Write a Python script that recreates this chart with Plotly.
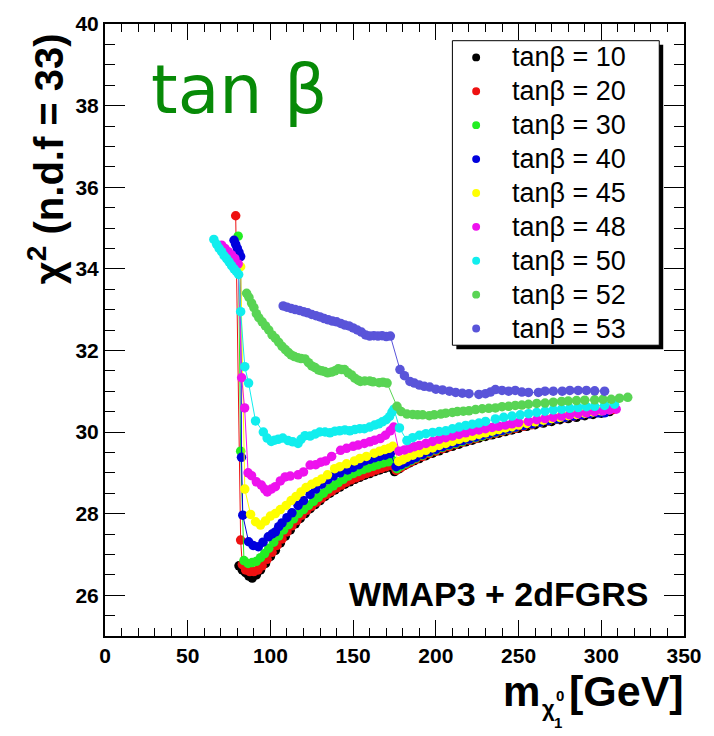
import plotly.graph_objects as go

# ---------------- data ----------------
series_names = ["tan\u03b2 = 10", "tan\u03b2 = 20", "tan\u03b2 = 30", "tan\u03b2 = 40", "tan\u03b2 = 45",
                "tan\u03b2 = 48", "tan\u03b2 = 50", "tan\u03b2 = 52", "tan\u03b2 = 53"]
series_colors = ["#000000", "#ee1111", "#22ee22", "#0000dd", "#ffff00",
                 "#ee11ee", "#11eeee", "#59d454", "#5954d9"]

m_tb10 = [81, 83, 85, 87, 89, 91.5, 94, 97, 100, 103, 106, 109, 112, 115, 118, 121, 124, 127, 130, 133,
          136, 139, 142, 145, 148, 151, 154, 157, 160, 163, 166, 169, 172, 175, 178, 181, 184, 187, 190, 194,
          198, 202, 206, 210, 214, 218, 222, 226, 230, 234, 238, 242, 246, 250, 255, 260, 265, 270, 275, 280,
          285, 290, 295, 300, 305]
chi_tb10 = [26.72, 26.62, 26.55, 26.47, 26.42, 26.5, 26.62, 26.78, 26.95, 27.1, 27.28, 27.45, 27.6, 27.75,
            27.88, 28.0, 28.12, 28.22, 28.32, 28.42, 28.5, 28.58, 28.65, 28.72, 28.78, 28.84, 28.89, 28.94,
            28.98, 29.03, 29.07, 29.11, 29.14, 29.03, 29.1, 29.18, 29.24, 29.3, 29.35, 29.42, 29.48, 29.54,
            29.6, 29.65, 29.7, 29.76, 29.8, 29.85, 29.89, 29.93, 29.97, 30.01, 30.05, 30.09, 30.14, 30.18,
            30.22, 30.26, 30.3, 30.33, 30.36, 30.4, 30.43, 30.46, 30.5]

m_tb20 = [79, 82, 83, 85, 87.5, 90, 92.5, 95, 98, 101, 104, 107, 110, 113, 116, 119, 122, 125, 128, 131,
          134, 137, 140, 143, 146, 149, 152, 155, 158, 161, 164, 167, 170, 173, 176, 179, 182, 185, 188, 192,
          196, 200, 204, 208, 212, 216, 220, 224, 228, 232, 236, 240, 244, 248, 253, 258, 263, 268, 273, 278,
          283, 288, 293, 298, 303, 307]
chi_tb20 = [35.3, 27.35, 26.75, 26.62, 26.58, 26.58, 26.62, 26.72, 26.88, 27.05, 27.22, 27.38, 27.55, 27.7,
            27.83, 27.96, 28.08, 28.18, 28.28, 28.38, 28.47, 28.55, 28.63, 28.7, 28.77, 28.83, 28.88, 28.93,
            28.98, 29.02, 29.07, 29.11, 29.15, 29.18, 29.06, 29.13, 29.2, 29.27, 29.33, 29.4, 29.47, 29.53,
            29.59, 29.64, 29.7, 29.75, 29.8, 29.84, 29.89, 29.93, 29.97, 30.01, 30.05, 30.09, 30.14, 30.18,
            30.23, 30.27, 30.31, 30.35, 30.38, 30.42, 30.45, 30.48, 30.52, 30.55]

m_tb30 = [80.5, 82, 84, 86.5, 89, 91.5, 94, 96.5, 99, 102, 105, 108, 111, 114, 117, 120, 123, 126, 129, 132,
          135, 138, 141, 144, 147, 150, 153, 156, 159, 162, 165, 168, 171, 174, 176.5, 179, 182, 185, 188, 192,
          196, 200, 204, 208, 212, 216, 220, 224, 228, 232, 236, 240, 244, 248, 253, 258, 263, 268, 273, 278,
          283, 288, 293, 298, 303]
chi_tb30 = [34.8, 29.53, 26.85, 26.78, 26.8, 26.83, 26.92, 27.02, 27.15, 27.3, 27.45, 27.6, 27.73, 27.87,
            28.0, 28.1, 28.2, 28.3, 28.4, 28.5, 28.6, 28.68, 28.76, 28.84, 28.92, 28.98, 29.03, 29.08, 29.12,
            29.16, 29.2, 29.24, 29.27, 29.3, 29.1, 29.17, 29.23, 29.3, 29.36, 29.43, 29.5, 29.56, 29.62, 29.67,
            29.72, 29.77, 29.82, 29.86, 29.9, 29.95, 29.99, 30.03, 30.07, 30.11, 30.16, 30.2, 30.24, 30.28,
            30.32, 30.36, 30.4, 30.43, 30.46, 30.5, 30.53]

m_tb40 = [78, 79, 80, 81, 82, 82.5, 83.3, 86.8, 89.5, 92.7, 95.5, 98.7, 101, 103, 105, 107, 110, 113, 116.7,
          120, 124, 127.4, 131, 134.6, 138, 142, 146.6, 150, 153.5, 156.8, 160, 163, 166, 169.3, 172.5, 176,
          179, 182, 185, 188, 192, 196, 200, 204, 208, 212, 216, 220, 224, 228, 232, 236, 240, 244, 248, 253,
          258, 263, 268, 273, 278, 283, 288, 293, 298, 302]
chi_tb40 = [34.7, 34.6, 34.5, 34.4, 34.3, 29.38, 27.96, 27.31, 27.22, 27.19, 27.3, 27.43, 27.5, 27.55, 27.68,
            27.77, 27.9, 28.02, 28.2, 28.32, 28.47, 28.6, 28.72, 28.83, 28.92, 29.0, 29.07, 29.13, 29.2, 29.29,
            29.33, 29.37, 29.4, 29.43, 29.47, 29.15, 29.2, 29.26, 29.32, 29.38, 29.45, 29.52, 29.58, 29.64,
            29.69, 29.74, 29.79, 29.83, 29.88, 29.92, 29.96, 30.0, 30.04, 30.08, 30.12, 30.16, 30.2, 30.24,
            30.28, 30.32, 30.36, 30.39, 30.42, 30.45, 30.47, 30.47]

m_tb45 = [82, 84.5, 88, 91, 94, 97, 100, 103, 106, 109.5, 112.5, 115.5, 118.5, 121.5, 125, 128, 131, 134.5,
          138.8, 142, 146, 150.8, 154, 158, 162.7, 166, 169, 171.7, 174, 177.5, 180, 182.5, 186, 190, 194, 198,
          202, 206, 210, 214, 218, 222, 226, 230, 234, 238, 242, 246, 250, 255, 260, 265, 270, 275, 280, 285,
          290, 295, 300, 305]
chi_tb45 = [34.05, 28.6, 27.98, 27.8, 27.72, 27.82, 27.94, 28.0, 28.1, 28.2, 28.32, 28.42, 28.53, 28.64,
            28.72, 28.78, 28.85, 28.95, 29.1, 29.15, 29.22, 29.29, 29.35, 29.4, 29.48, 29.53, 29.57, 29.6,
            29.65, 29.28, 29.32, 29.38, 29.43, 29.49, 29.55, 29.61, 29.67, 29.72, 29.77, 29.82, 29.86, 29.9,
            29.94, 29.98, 30.02, 30.06, 30.1, 30.13, 30.17, 30.21, 30.25, 30.29, 30.33, 30.36, 30.4, 30.43,
            30.46, 30.49, 30.52, 30.55]

m_tb48 = [70.5, 72.5, 74.5, 76.5, 78.5, 80.5, 82.6, 84.4, 86.5, 88.6, 91.5, 94.5, 96.5, 98.1, 100.5, 103,
          106, 108.9, 112, 116.7, 120, 124, 127.4, 130.5, 133.4, 137, 142.4, 146, 150, 153, 156.8, 160, 163,
          166.4, 169.5, 172.4, 174.5, 177.7, 181, 184, 187, 190, 194, 198, 202, 206, 210, 214, 218, 222, 226,
          230, 234, 238, 242, 246, 250, 256, 261, 266, 271, 276, 281, 286, 291, 296, 301, 305, 309]
chi_tb48 = [34.58, 34.5, 34.42, 34.34, 34.25, 34.12, 31.33, 30.59, 29.0, 28.93, 28.78, 28.7, 28.6, 28.53,
            28.6, 28.66, 28.8, 28.9, 28.92, 28.95, 29.02, 29.19, 29.2, 29.26, 29.29, 29.4, 29.55, 29.6, 29.65,
            29.68, 29.72, 29.76, 29.8, 29.84, 29.92, 30.03, 30.12, 29.53, 29.56, 29.6, 29.64, 29.67, 29.72,
            29.77, 29.82, 29.86, 29.9, 29.94, 29.98, 30.02, 30.05, 30.08, 30.11, 30.14, 30.17, 30.2, 30.23,
            30.26, 30.3, 30.33, 30.36, 30.39, 30.42, 30.45, 30.47, 30.5, 30.52, 30.54, 30.56]

m_tb50 = [65.8, 67.5, 69, 70.5, 72, 73.5, 75, 76.5, 78, 79.5, 80.8, 82, 84.5, 86.8, 91, 95.7, 98, 100.5,
          102.5, 104.7, 107.5, 110.7, 113.5, 116.7, 118.5, 120.9, 124, 127, 129.8, 133, 136, 139, 141.8, 145,
          148, 151, 154, 156.8, 160, 163, 165.5, 167.6, 170, 172, 173.5, 174.7, 178, 182.5, 186, 190, 194, 198,
          202, 206, 210, 214, 218, 222, 226, 230, 236, 241, 246, 251, 256, 261, 266, 271, 276, 281, 286, 291,
          296, 302, 308]
chi_tb50 = [34.72, 34.6, 34.5, 34.42, 34.32, 34.25, 34.17, 34.08, 34.0, 33.93, 33.86, 32.95, 31.6, 31.2,
            30.27, 30.0, 29.85, 29.77, 29.8, 29.82, 29.85, 29.79, 29.76, 29.72, 29.82, 29.91, 29.9, 29.95,
            30.0, 30.0, 29.98, 30.02, 30.03, 30.05, 30.03, 30.06, 30.08, 30.08, 30.12, 30.17, 30.2, 30.25,
            30.3, 30.38, 30.49, 30.56, 30.1, 29.79, 29.86, 29.92, 29.96, 29.99, 30.01, 30.03, 30.08, 30.12,
            30.16, 30.19, 30.22, 30.26, 30.32, 30.36, 30.39, 30.42, 30.45, 30.48, 30.51, 30.54, 30.56, 30.58,
            30.6, 30.62, 30.63, 30.65, 30.68]

m_tb52 = [85.6, 87, 88.6, 90, 91.5, 93, 95, 97, 99, 101, 103, 105, 107, 109, 110.8, 112.5, 114.5, 116.5,
          118.5, 120.9, 123, 125, 127, 129, 131, 132.8, 134.6, 137, 139, 141, 143, 144.8, 147, 149, 151, 153,
          154.4, 157, 160, 162, 165.7, 168, 170.5, 176.5, 179, 182.5, 186, 189, 192, 196, 199, 203, 206, 210,
          213, 216.6, 220, 224, 228, 232, 236, 240, 244, 248, 252, 256, 261, 266, 271, 276, 280, 285, 290,
          296, 301, 306, 311, 316]
chi_tb52 = [33.4, 33.3, 33.16, 33.05, 32.9, 32.8, 32.7, 32.6, 32.5, 32.38, 32.3, 32.2, 32.1, 32.02, 31.95,
            31.89, 31.85, 31.82, 31.8, 31.79, 31.7, 31.62, 31.58, 31.52, 31.5, 31.48, 31.45, 31.47, 31.5,
            31.55, 31.53, 31.53, 31.45, 31.4, 31.32, 31.27, 31.24, 31.25, 31.25, 31.23, 31.21, 31.22, 31.2,
            30.63, 30.5, 30.44, 30.43, 30.42, 30.42, 30.4, 30.42, 30.44, 30.46, 30.48, 30.5, 30.51, 30.52,
            30.55, 30.57, 30.58, 30.59, 30.62, 30.63, 30.65, 30.66, 30.68, 30.7, 30.71, 30.73, 30.75, 30.76,
            30.77, 30.78, 30.79, 30.8, 30.8, 30.83, 30.85]

m_tb53 = [107.7, 110, 112.5, 115, 117.5, 120, 122.5, 125, 127.5, 130, 132.5, 135, 137.5, 140, 142.5, 145,
          147.5, 150, 152.5, 155, 157.5, 160, 162.5, 165, 167.5, 170, 172.5, 178.3, 181, 184.3, 187, 190, 193,
          196.3, 200, 204, 208.2, 212, 216, 220, 226, 230, 233, 236, 240, 244, 248, 252, 256, 262, 266, 271,
          276.4, 281, 286, 291, 296, 302]
chi_tb53 = [33.09, 33.06, 33.03, 33.0, 32.98, 32.95, 32.92, 32.88, 32.85, 32.82, 32.78, 32.75, 32.72, 32.7,
            32.66, 32.62, 32.6, 32.55, 32.5, 32.45, 32.38, 32.35, 32.36, 32.35, 32.36, 32.34, 32.35, 31.53,
            31.38, 31.24, 31.2, 31.15, 31.12, 31.1, 31.05, 31.03, 31.0, 30.97, 30.95, 30.94, 30.92, 30.94,
            30.98, 31.04, 31.02, 31.0, 31.02, 30.98, 30.97, 30.97, 31.0, 31.0, 31.0, 31.02, 31.02, 31.02,
            31.01, 31.0]

series_m = [m_tb10, m_tb20, m_tb30, m_tb40, m_tb45, m_tb48, m_tb50, m_tb52, m_tb53]
series_chi = [chi_tb10, chi_tb20, chi_tb30, chi_tb40, chi_tb45, chi_tb48, chi_tb50, chi_tb52, chi_tb53]

x_range = [0, 350]
y_range = [25, 40]

# ---------------- layout geometry (pixels) ----------------
W, H = 714, 736
L, R, T, B = 105, 690, 13, 636
PW, PH = R - L, B - T


def px(xp):
    return (xp - L) / PW


def py(yp):
    return (B - yp) / PH


fig = go.Figure()
for name, col, xs, ys in zip(series_names, series_colors, series_m, series_chi):
    fig.add_trace(go.Scatter(x=xs, y=ys, mode="lines+markers", name=name,
                             line=dict(color=col, width=1),
                             marker=dict(color=col, size=9.5, line=dict(width=0)),
                             showlegend=False))

tickfont = dict(family="Liberation Sans, Arial, sans-serif", size=21, color="black", weight="bold")
fig.update_xaxes(range=x_range, showgrid=False, zeroline=False, showline=True, linewidth=2,
                 linecolor="black", mirror="ticks", ticks="inside", ticklen=16, tickwidth=1,
                 tickcolor="black", dtick=50, tick0=0, tickfont=tickfont,
                 minor=dict(dtick=10, ticklen=8, tickwidth=1, ticks="inside", tickcolor="black"))
fig.update_yaxes(range=y_range, showgrid=False, zeroline=False, showline=True, linewidth=2,
                 linecolor="black", mirror="ticks", ticks="inside", ticklen=20, tickwidth=1,
                 tickcolor="black", dtick=2, tick0=26, tickfont=tickfont,
                 minor=dict(dtick=0.5, ticklen=10, tickwidth=1, ticks="inside", tickcolor="black"))

shapes = []
annotations = []

# legend box with shadow
shapes.append(dict(type="rect", xref="paper", yref="paper", x0=px(460), x1=px(669), y0=py(344), y1=py(34),
                   fillcolor="black", line=dict(width=0), layer="below"))
shapes.append(dict(type="rect", xref="paper", yref="paper", x0=px(456), x1=px(665), y0=py(340), y1=py(30),
                   fillcolor="white", line=dict(color="black", width=1), layer="below"))
for i, (name, col) in enumerate(zip(series_names, series_colors)):
    yc = 47 + 34.5 * i
    shapes.append(dict(type="circle", xref="paper", yref="paper", x0=px(476), x1=px(484),
                       y0=py(yc + 4), y1=py(yc - 4), fillcolor=col, line=dict(width=0)))
    annotations.append(dict(text=name, xref="paper", yref="paper", x=px(514), y=py(yc),
                            xanchor="left", yanchor="middle", showarrow=False,
                            font=dict(family="Liberation Sans, Arial, sans-serif", size=27, color="black")))

# green tan beta label
annotations.append(dict(text="tan \u03b2", xref="paper", yref="paper", x=px(149), y=py(80),
                        xanchor="left", yanchor="middle", showarrow=False,
                        font=dict(family="DejaVu Sans", size=68, color="#078a07")))

# WMAP label
annotations.append(dict(text="WMAP3 + 2dFGRS", xref="paper", yref="paper", x=px(656), y=py(593),
                        xanchor="right", yanchor="middle", showarrow=False,
                        font=dict(family="Liberation Sans, Arial, sans-serif", size=34, color="black",
                                  weight="bold")))

# y title
annotations.append(dict(text="\u03c7<sup>2</sup> (n.d.f = 33)", xref="paper", yref="paper",
                        x=px(45), y=py(150), xanchor="center", yanchor="middle", textangle=-90,
                        showarrow=False,
                        font=dict(family="Liberation Sans, Arial, sans-serif", size=40, color="black",
                                  weight="bold")))

# x title pieces
bold = dict(family="Liberation Sans, Arial, sans-serif", color="black", weight="bold")
annotations.append(dict(text="m", xref="paper", yref="paper", x=px(505), y=py(692),
                        xanchor="left", yanchor="middle", showarrow=False, font=dict(size=42, **bold)))
annotations.append(dict(text="\u03c7", xref="paper", yref="paper", x=px(545), y=py(710),
                        xanchor="left", yanchor="middle", showarrow=False, font=dict(size=22, **bold)))
annotations.append(dict(text="0", xref="paper", yref="paper", x=px(559), y=py(697),
                        xanchor="left", yanchor="middle", showarrow=False, font=dict(size=15, **bold)))
annotations.append(dict(text="1", xref="paper", yref="paper", x=px(557), y=py(724),
                        xanchor="left", yanchor="middle", showarrow=False, font=dict(size=15, **bold)))
annotations.append(dict(text="[GeV]", xref="paper", yref="paper", x=px(692), y=py(692),
                        xanchor="right", yanchor="middle", showarrow=False, font=dict(size=43, **bold)))

fig.update_layout(width=W, height=H, margin=dict(l=L, r=W - R, t=T, b=H - B, pad=0),
                  plot_bgcolor="white", paper_bgcolor="white", shapes=shapes, annotations=annotations,
                  showlegend=False)

fig.write_html("out.html")
